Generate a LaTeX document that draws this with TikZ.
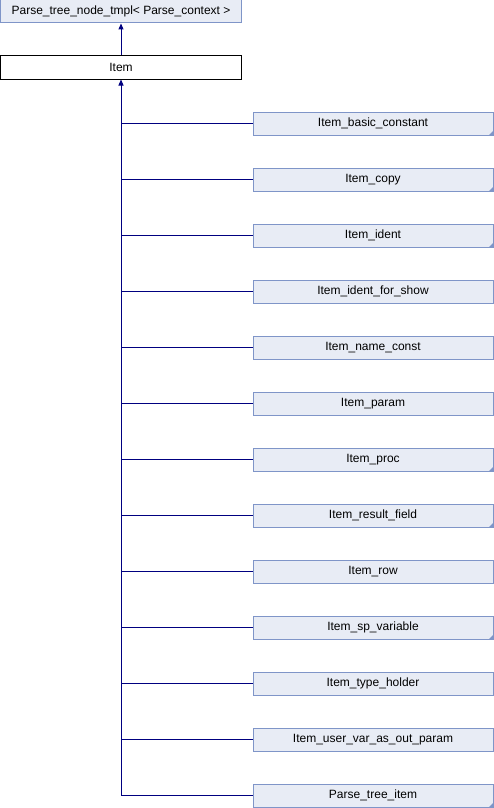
\documentclass[tikz,border=0pt]{standalone}
\usepackage{fontspec}
\setmainfont{Liberation Sans}
\usetikzlibrary{arrows.meta}
\definecolor{boxfill}{HTML}{E8ECF5}
\definecolor{boxline}{HTML}{7F95C8}
\definecolor{linkblue}{HTML}{000080}
\tikzset{
  classbox/.style={draw=boxline, fill=boxfill, line width=1pt, inner sep=0pt,
    minimum width=240pt, minimum height=23pt, font=\fontsize{12}{14}\selectfont},
  mainbox/.style={classbox, draw=black, fill=white, minimum width=241pt},
  inherit/.style={draw=linkblue, line width=1pt, -{Triangle[length=6pt,width=5pt]}},
  branch/.style={draw=linkblue, line width=1pt},
}
\begin{document}
\begin{tikzpicture}[x=1pt,y=1pt]
				\useasboundingbox (0,0) rectangle (494,-808);
				\node[classbox, minimum width=241pt] (tmpl) at (121,-11.5) {Parse\_tree\_node\_tmpl< Parse\_context >};
				\node[mainbox] (item) at (121,-67.5) {Item};
				\node[classbox] (basic) at (373,-123.5) {Item\_basic\_constant};
				\node[classbox] (copy) at (373,-179.5) {Item\_copy};
				\node[classbox] (ident) at (373,-235.5) {Item\_ident};
				\node[classbox] (identshow) at (373,-291.5) {Item\_ident\_for\_show};
				\node[classbox] (nameconst) at (373,-347.5) {Item\_name\_const};
				\node[classbox] (param) at (373,-403.5) {Item\_param};
				\node[classbox] (proc) at (373,-459.5) {Item\_proc};
				\node[classbox] (result) at (373,-515.5) {Item\_result\_field};
				\node[classbox] (row) at (373,-571.5) {Item\_row};
				\node[classbox] (spvar) at (373,-627.5) {Item\_sp\_variable};
				\node[classbox] (typeholder) at (373,-683.5) {Item\_type\_holder};
				\node[classbox] (uservar) at (373,-739.5) {Item\_user\_var\_as\_out\_param};
				\node[classbox] (ptree) at (373,-795.5) {Parse\_tree\_item};
				% corner marks
				\fill[boxline] (basic.south east) -- ++(-5,0) -- ++(5,5) -- cycle;
				\fill[boxline] (copy.south east) -- ++(-5,0) -- ++(5,5) -- cycle;
				\fill[boxline] (ident.south east) -- ++(-5,0) -- ++(5,5) -- cycle;
				\fill[boxline] (proc.south east) -- ++(-5,0) -- ++(5,5) -- cycle;
				\fill[boxline] (result.south east) -- ++(-5,0) -- ++(5,5) -- cycle;
				\fill[boxline] (spvar.south east) -- ++(-5,0) -- ++(5,5) -- cycle;
				\fill[boxline] (ptree.south east) -- ++(-5,0) -- ++(5,5) -- cycle;
				% links
				\draw[inherit] (item.north) -- (tmpl.south);
				\draw[inherit] (ptree.west) -| (item.south);
				\draw[branch] (basic.west) -- (item.south |- basic.west);
				\draw[branch] (copy.west) -- (item.south |- copy.west);
				\draw[branch] (ident.west) -- (item.south |- ident.west);
				\draw[branch] (identshow.west) -- (item.south |- identshow.west);
				\draw[branch] (nameconst.west) -- (item.south |- nameconst.west);
				\draw[branch] (param.west) -- (item.south |- param.west);
				\draw[branch] (proc.west) -- (item.south |- proc.west);
				\draw[branch] (result.west) -- (item.south |- result.west);
				\draw[branch] (row.west) -- (item.south |- row.west);
				\draw[branch] (spvar.west) -- (item.south |- spvar.west);
				\draw[branch] (typeholder.west) -- (item.south |- typeholder.west);
				\draw[branch] (uservar.west) -- (item.south |- uservar.west);
			\end{tikzpicture}
\end{document}
